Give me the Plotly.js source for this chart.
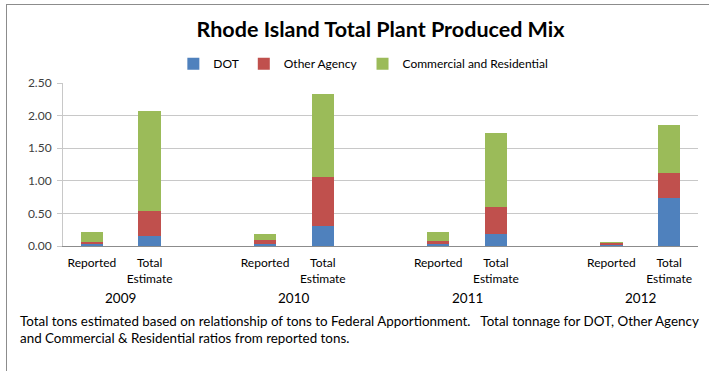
<!DOCTYPE html>
<html>
<head>
<meta charset="utf-8">
<script src="https://cdn.plot.ly/plotly-3.0.1.min.js"></script>
<style>
  html, body { margin: 0; padding: 0; background: #ffffff; }
  #chart { width: 709px; height: 371px; position: relative; }
  #frame { position: absolute; left: 6px; top: 4px; width: 720px; height: 400px;
           border-left: 1px solid #8c8c8c; border-top: 1px solid #8c8c8c;
           pointer-events: none; z-index: 10; }
</style>
</head>
<body>
<div id="chart"></div>
<div id="frame"></div>
<script>
// ---- data ----
const years = ['2009', '2010', '2011', '2012'];
const barLabels = ['Reported', 'Total<br>Estimate'];
const seriesNames = ['DOT', 'Other Agency', 'Commercial and Residential'];
const seriesColors = ['#4F81BD', '#C0504D', '#9BBB59'];

// values per year: [Reported, Total Estimate]
const dotReported    = [0.025, 0.025, 0.03, 0.02];
const dotTotal       = [0.16, 0.31, 0.19, 0.74];
const otherReported  = [0.03, 0.065, 0.04, 0.02];
const otherTotal     = [0.38, 0.75, 0.41, 0.38];
const commReported   = [0.165, 0.10, 0.14, 0.02];
const commTotal      = [1.53, 1.27, 1.13, 0.74];

const footnote1 = 'Total tons estimated based on relationship of tons to Federal Apportionment.\u00a0\u00a0\u00a0Total tonnage for DOT, Other Agency';
const footnote2 = 'and Commercial & Residential ratios from reported tons.';

// ---- build positions: each year = Reported, Total Estimate, blank slot ----
const slotsPerYear = 3;
const nSlots = years.length * slotsPerYear - 1;
const xPos = [];
const xText = [];
years.forEach((y, i) => {
  barLabels.forEach((b, j) => { xPos.push(i * slotsPerYear + j); xText.push(b); });
});
function interleave(rep, tot) {
  const out = [];
  rep.forEach((v, i) => { out.push(v); out.push(tot[i]); });
  return out;
}
const seriesVals = [
  interleave(dotReported, dotTotal),
  interleave(otherReported, otherTotal),
  interleave(commReported, commTotal)
];

const traces = seriesNames.map((name, k) => ({
  type: 'bar',
  name: name,
  x: xPos,
  y: seriesVals[k],
  marker: { color: seriesColors[k], line: { width: 0 } },
  hoverinfo: 'skip'
}));

const boundaries = Array.from({ length: nSlots + 1 }, (_, i) => i - 0.5);
const yearCenters = years.map((y, i) => i * slotsPerYear + 0.5);

const FONT = 'Lato, "Open Sans", sans-serif';

const annotations = years.map((y, i) => ({
  text: y, x: yearCenters[i], xref: 'x', y: -0.32, yref: 'paper',
  xanchor: 'center', yanchor: 'middle', showarrow: false,
  font: { family: FONT, size: 13.5, color: '#000000' }
}));
annotations.push({
  text: footnote1, x: -0.0709, xref: 'paper', y: -0.46, yref: 'paper',
  xanchor: 'left', yanchor: 'middle', showarrow: false, align: 'left',
  font: { family: FONT, size: 13.4, color: '#000000' }
});
annotations.push({
  text: footnote2, x: -0.0709, xref: 'paper', y: -0.564, yref: 'paper',
  xanchor: 'left', yanchor: 'middle', showarrow: false, align: 'left',
  font: { family: FONT, size: 13.4, color: '#000000' }
});

const layout = {
  width: 709, height: 371,
  margin: { l: 63, r: 11, t: 83, b: 125 },
  paper_bgcolor: '#ffffff', plot_bgcolor: '#ffffff',
  barmode: 'stack',
  bargap: 0.61,
  showlegend: true,
  title: {
    text: '<b>Rhode Island Total Plant Produced Mix</b>',
    x: 0.5, xref: 'paper', xanchor: 'center',
    y: 1 - 29 / 371, yref: 'container', yanchor: 'middle',
    font: { family: FONT, size: 21.5, color: '#000000' }
  },
  legend: {
    orientation: 'h', x: 0.473, xanchor: 'center', y: 1.118, yanchor: 'middle',
    font: { family: FONT, size: 12, color: '#000000' },
    traceorder: 'normal', itemwidth: 30, bgcolor: 'rgba(0,0,0,0)'
  },
  xaxis: {
    range: [-0.5, nSlots - 0.5],
    tickmode: 'array', tickvals: xPos, ticktext: xText,
    ticks: '', showgrid: false, zeroline: false,
    showline: true, linecolor: '#8c8c8c', linewidth: 1,
    ticklabelstandoff: 6,
    tickfont: { family: FONT, size: 12, color: '#000000' },
    fixedrange: true
  },
  xaxis2: {
    overlaying: 'x', anchor: 'y', side: 'bottom',
    range: [-0.5, nSlots - 0.5],
    tickmode: 'array', tickvals: boundaries,
    ticks: 'outside', ticklen: 5, tickcolor: '#8c8c8c', tickwidth: 1,
    showticklabels: false, showgrid: false, zeroline: false, showline: false
  },
  yaxis: {
    range: [0, 2.5], dtick: 0.5, tick0: 0, tickformat: '.2f',
    showgrid: true, gridcolor: '#c8c8c8', gridwidth: 1,
    zeroline: false, showline: true, linecolor: '#c8c8c8', linewidth: 1,
    ticks: 'outside', ticklen: 5, tickcolor: '#c8c8c8',
    ticklabelstandoff: 3,
    tickfont: { family: FONT, size: 12, color: '#404040' },
    fixedrange: true
  },
  annotations: annotations
};

Plotly.newPlot('chart', traces, layout, { displayModeBar: false, staticPlot: true });
</script>
</body>
</html>
